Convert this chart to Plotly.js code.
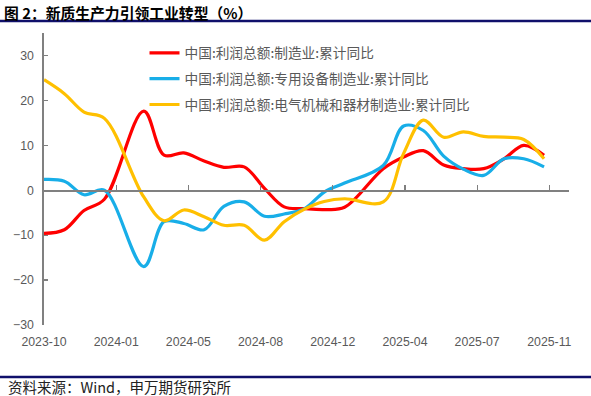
<!DOCTYPE html>
<html>
<head>
<meta charset="utf-8">
<script src="https://cdn.plot.ly/plotly-3.0.1.min.js"></script>
<style>
html,body{margin:0;padding:0;background:#fff;}
#chart{width:591px;height:396px;}
</style>
</head>
<body>
<div id="chart"></div>
<script>
// ---- data (month-end, cumulative YoY %) ----
var dates = ['2023-09-30','2023-10-31','2023-11-30','2023-12-31',
  '2024-02-29','2024-03-31','2024-04-30','2024-05-31','2024-06-30','2024-07-31',
  '2024-08-31','2024-09-30','2024-10-31','2024-11-30','2024-12-31',
  '2025-02-28','2025-03-31','2025-04-30','2025-05-31','2025-06-30','2025-07-31',
  '2025-08-31','2025-09-30','2025-10-31'];
var manufacturing = [-9.6,-8.8,-4.5,-2.0, 17.6,7.8,8.3,6.5,5.1,5.2, 0.4,-3.7,-4.1,-4.3,-3.8,
  4.8,7.4,8.8,5.6,4.8,4.8, 7.0,10.0,7.8];
var specialEquipment = [2.4,2.0,-1.0,0.0, -17.0,-7.0,-7.4,-8.8,-3.6,-2.6, -5.8,-5.3,-4.1,-0.4,1.6,
  5.5,14.3,13.3,7.6,4.7,3.3, 7.0,7.0,5.2];
var electrical = [24.6,21.5,17.4,16.0, -1.5,-6.8,-4.4,-5.9,-7.8,-7.8, -11.1,-7.0,-4.2,-2.5,-1.9,
  -2.6,8.2,15.6,11.8,13.0,12.0, 11.8,11.3,7.0];

var seriesNames = ['中国:利润总额:制造业:累计同比',
  '中国:利润总额:专用设备制造业:累计同比',
  '中国:利润总额:电气机械和器材制造业:累计同比'];
var seriesColors = ['#FF0000','#18AEE8','#FFC000'];

var tickVals = ['2023-09-30','2024-01-18','2024-05-07','2024-08-25','2024-12-13','2025-04-02','2025-07-21','2025-11-08'];
var tickText = ['2023-10','2024-01','2024-05','2024-08','2024-12','2025-04','2025-07','2025-11'];
var yTicks = [-30,-20,-10,0,10,20,30];
var xRange = ['2023-09-30','2025-12-08'];
var yRange = [-30,35];

var titleText = '图 2：新质生产力引领工业转型（%）';
var sourceText = '资料来源：Wind，申万期货研究所';

var cjk = '"Noto Sans CJK SC", "Noto Sans", sans-serif';
var allSeries = [manufacturing, specialEquipment, electrical];
var traces = allSeries.map(function(v,i){
  return {x:dates, y:v, type:'scatter', mode:'lines', name:seriesNames[i],
    legendgroup:'g'+i, line:{color:seriesColors[i], width:3.2, shape:'spline', smoothing:1},
    hoverinfo:'skip'};
});
// empty trace so the zero-line axis exists
traces.push({x:[], y:[], xaxis:'x2', yaxis:'y', type:'scatter', mode:'lines', showlegend:false, hoverinfo:'skip'});

var L=44, R=22, T=32.5, B=71;
var W=591, H=396;
var pw=W-L-R, ph=H-T-B;
function px2x(p){return (p-L)/pw;}
function py2y(p){return (H-B-p)/ph;}

var layout = {
  width:W, height:H,
  margin:{l:L,r:R,t:T,b:B,pad:0},
  paper_bgcolor:'#fff', plot_bgcolor:'#fff',
  showlegend:true,
  title:{text:titleText, x:4/W, xanchor:'left', xref:'container', y:1-13.5/H, yanchor:'middle',
    font:{family:cjk, size:14.8, color:'#000', weight:'bold'}},
  xaxis:{type:'date', range:xRange, tickmode:'array', tickvals:tickVals, ticktext:tickText,
    showline:false, ticks:'', showgrid:false, zeroline:false,
    tickfont:{family:'"Liberation Sans", Arial, sans-serif', size:12.3, color:'#595959'},
    ticklabelstandoff:8},
  xaxis2:{type:'date', overlaying:'x', anchor:'free', position:(0-yRange[0])/(yRange[1]-yRange[0]),
    range:xRange, tickmode:'array', tickvals:tickVals, showticklabels:false,
    ticks:'inside', ticklen:5, tickwidth:1.2, tickcolor:'#7F7F7F',
    showline:true, linecolor:'#808080', linewidth:1.6, showgrid:false, zeroline:false},
  yaxis:{range:yRange, tickmode:'array', tickvals:yTicks, showline:true, linecolor:'#808080', linewidth:1.6,
    ticks:'inside', ticklen:4, tickwidth:1.2, tickcolor:'#7F7F7F', showgrid:false, zeroline:false,
    tickfont:{family:'"Liberation Sans", Arial, sans-serif', size:12.3, color:'#595959'},
    ticklabelstandoff:6},
  legend:{x:px2x(144.5), xanchor:'left', y:py2y(37), yanchor:'top', bgcolor:'rgba(0,0,0,0)',
    font:{family:cjk, size:13.7, color:'#595959'}, tracegroupgap:5, traceorder:'grouped'},
  shapes:[
    {type:'line', xref:'paper', yref:'paper', x0:px2x(0), x1:px2x(W), y0:py2y(20.5), y1:py2y(20.5),
      line:{color:'#10106B', width:2.5}},
    {type:'line', xref:'paper', yref:'paper', x0:px2x(0), x1:px2x(W), y0:py2y(377), y1:py2y(377),
      line:{color:'#10106B', width:2.5}}
  ],
  annotations:[
    {xref:'paper', yref:'paper', x:px2x(6), y:py2y(387), xanchor:'left', yanchor:'middle', showarrow:false,
      text:sourceText, font:{family:cjk, size:14.5, color:'#222'}}
  ]
};
Plotly.newPlot('chart', traces, layout, {staticPlot:true, displayModeBar:false});
</script>
</body>
</html>
